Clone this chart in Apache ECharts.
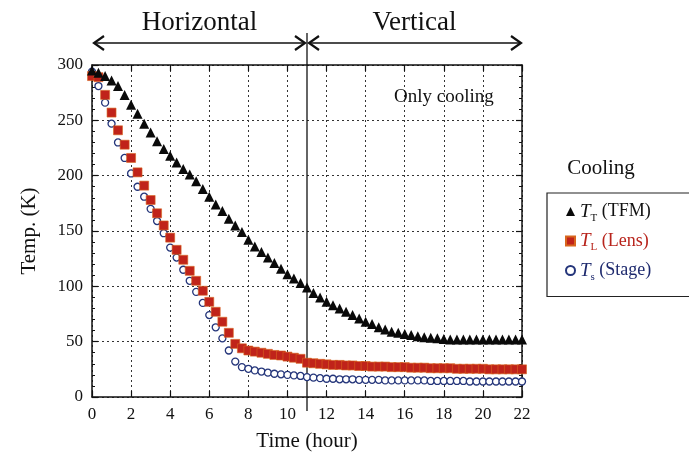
<!DOCTYPE html>
<html><head><meta charset="utf-8">
<script src="https://cdn.jsdelivr.net/npm/echarts@6/dist/echarts.min.js"></script>
<style>html,body{margin:0;padding:0;background:#fff}#c{width:689px;height:462px}</style>
</head><body><div id="c"></div>
<script>
// sample times (hour), one sample every 20 minutes
const times = [0,0.33,0.67, 1,1.33,1.67, 2,2.33,2.67, 3,3.33,3.67, 4,4.33,4.67, 5,5.33,5.67,
  6,6.33,6.67, 7,7.33,7.67, 8,8.33,8.67, 9,9.33,9.67, 10,10.33,10.67, 11,11.33,11.67,
  12,12.33,12.67, 13,13.33,13.67, 14,14.33,14.67, 15,15.33,15.67, 16,16.33,16.67,
  17,17.33,17.67, 18,18.33,18.67, 19,19.33,19.67, 20,20.33,20.67, 21,21.33,21.67, 22];
// T_T (TFM)
const tfm = [295,293,290, 286,281,273, 264,256,247, 239,231,224, 218,212,206, 201,195,188,
  181,174,168, 161,155,149, 142,136,131, 126,121,116, 111,107,103, 99,94,90,
  86,83,80, 77,74,71, 68,66,63, 61,59,58, 57,56,55, 54,53.5,53, 52.5,52,52,
  52,52,52, 52,52,52, 52,52,52, 52];
// T_L (Lens)
const lens = [290,289,273, 257,241,228, 216,203,191, 178,166,155, 144,133,124, 114,105,96,
  86,77,68, 58,48,44, 42,41,40, 39,38,37.5, 36.5,35.5,34.5, 31,30.5,30,
  29.5,29,29, 28.5,28.5,28, 28,27.5,27.5, 27.5,27,27, 27,26.5,26.5, 26.5,26,26,
  26,26,25.5, 25.5,25.5,25.5, 25.5,25,25, 25,25,25, 25];
// T_s (Stage)
const stage = [294,281,266, 247,230,216, 202,190,181, 170,159,148, 135,126,115, 105,95,85,
  74,63,53, 42,32,27, 25.5,24,23, 22,21,20.5, 20,19.5,19, 18,17.5,17,
  16.5,16.5,16, 16,16,15.5, 15.5,15.5,15.5, 15,15,15, 15,15,15, 15,14.5,14.5,
  14.5,14.5,14.5, 14.5,14,14, 14,14,14, 14,14,14, 14];

const seriesNames = ['TFM', 'Lens', 'Stage'];
const xRange = [0, 22], xStep = 2;
const yRange = [0, 300], yStep = 50;
const phaseSplit = 11;          // hour where orientation changes
const phaseLabels = ['Horizontal', 'Vertical'];
const noteText = 'Only cooling';
const legendTitle = 'Cooling';

const SERIF = '"Liberation Serif","Times New Roman",serif';
const pair = arr => times.map((t, i) => [t, arr[i]]);

const chart = echarts.init(document.getElementById('c'), null, {renderer: 'canvas'});

const axisCommon = {
  type: 'value',
  axisLine: {show: true, onZero: false, lineStyle: {color: '#111', width: 1.5}},
  axisTick: {show: true, inside: true, length: 6, lineStyle: {color: '#111', width: 1.2}},
};

const richFor = (col) => ({
  ['t' + col.k]: {fontFamily: SERIF, fontStyle: 'italic', fontSize: 19, color: col.c, lineHeight: 24},
  ['s' + col.k]: {fontFamily: SERIF, fontSize: 11, color: col.c, lineHeight: 11, verticalAlign: 'bottom'},
  ['n' + col.k]: {fontFamily: SERIF, fontSize: 18, color: col.c, lineHeight: 24}
});
const legendCols = [{k: 0, c: '#111111'}, {k: 1, c: '#b8241c'}, {k: 2, c: '#1e2a6e'}];
const rich = Object.assign({}, ...legendCols.map(richFor));
const legendText = {
  TFM: '{t0|T}{s0|T}{n0| (TFM)}',
  Lens: '{t1|T}{s1|L}{n1| (Lens)}',
  Stage: '{t2|T}{s2|s}{n2| (Stage)}'
};

chart.setOption({
  animation: false,
  backgroundColor: '#fff',
  grid: {left: 92, right: 167, top: 65, bottom: 65, containLabel: false},
  xAxis: [
    Object.assign({}, axisCommon, {
      min: xRange[0], max: xRange[1], interval: xStep, position: 'bottom',
      name: 'Time (hour)', nameLocation: 'middle', nameGap: 34,
      nameTextStyle: {fontFamily: SERIF, fontSize: 21, color: '#111'},
      axisLabel: {fontFamily: SERIF, fontSize: 17, color: '#111', margin: 9},
      splitLine: {show: true, lineStyle: {type: [2, 3], color: '#333', width: 1}}
    }),
    Object.assign({}, axisCommon, {
      min: xRange[0], max: xRange[1], interval: xStep, position: 'top',
      axisLabel: {show: false}, splitLine: {show: false}
    })
  ],
  yAxis: [
    Object.assign({}, axisCommon, {
      min: yRange[0], max: yRange[1], interval: yStep, position: 'left',
      name: 'Temp. (K)', nameLocation: 'middle', nameGap: 52, nameRotate: 90,
      nameTextStyle: {fontFamily: SERIF, fontSize: 21, color: '#111'},
      axisLabel: {fontFamily: SERIF, fontSize: 17, color: '#111', margin: 9},
      minorTick: {show: true, splitNumber: 5, length: 3, lineStyle: {color: '#111'}},
      splitLine: {show: true, lineStyle: {type: [2, 3], color: '#333', width: 1}}
    }),
    Object.assign({}, axisCommon, {
      min: yRange[0], max: yRange[1], interval: yStep, position: 'right',
      axisLabel: {show: false}, splitLine: {show: false},
      minorTick: {show: true, splitNumber: 5, length: 3, lineStyle: {color: '#111'}}
    })
  ],
  legend: {
    orient: 'vertical', left: 547, top: 193,
    itemWidth: 9, itemHeight: 9, itemGap: 8,
    borderColor: '#222', borderWidth: 1.2,
    padding: [9, 40, 14, 18],
    formatter: name => legendText[name],
    textStyle: {rich: rich, fontFamily: SERIF},
    data: seriesNames
  },
  series: [
    {name: seriesNames[2], type: 'scatter', data: pair(stage), symbol: 'circle', symbolSize: 7,
     itemStyle: {color: '#ffffff', borderColor: '#24357a', borderWidth: 1.3, opacity: 1}, z: 3},
    {name: seriesNames[1], type: 'scatter', data: pair(lens), symbol: 'rect', symbolSize: 9,
     itemStyle: {color: '#c0231a', borderColor: '#d8661e', borderWidth: 0.6, opacity: 1}, z: 4},
    {name: seriesNames[0], type: 'scatter', data: pair(tfm), symbol: 'triangle', symbolSize: 10,
     itemStyle: {color: '#0a0a0a', opacity: 1}, z: 5}
  ]
});

// annotations positioned through the axes
const P = (x, y) => chart.convertToPixel({xAxisIndex: 0, yAxisIndex: 0}, [x, y]);
const [x0, yBot] = P(xRange[0], yRange[0]);
const [xs, yTop] = P(phaseSplit, yRange[1]);
const [x1] = P(xRange[1], yRange[1]);
const arrowY = yTop - 22;
const head = (x, dir) => ({
  type: 'polyline',
  shape: {points: [[x + dir * 10, arrowY - 7], [x, arrowY], [x + dir * 10, arrowY + 7]]},
  style: {stroke: '#111', lineWidth: 2.2, fill: null}
});
const [hx] = P((xRange[0] + phaseSplit) / 2, 0);
const [vx] = P((phaseSplit + xRange[1]) / 2, 0);
const [nx, ny] = P(18, 271);

chart.setOption({
  graphic: [
    {type: 'line', shape: {x1: xs, y1: yTop - 32, x2: xs, y2: yBot + 14}, style: {stroke: '#111', lineWidth: 1.3}},
    {type: 'line', shape: {x1: x0 + 2, y1: arrowY, x2: xs - 2, y2: arrowY}, style: {stroke: '#111', lineWidth: 1.4}},
    {type: 'line', shape: {x1: xs + 2, y1: arrowY, x2: x1 - 1, y2: arrowY}, style: {stroke: '#111', lineWidth: 1.4}},
    head(x0 + 2, 1), head(xs - 2, -1), head(xs + 2, 1), head(x1 - 1, -1),
    {type: 'text', style: {text: phaseLabels[0], x: hx, y: yTop - 42, textAlign: 'center', textVerticalAlign: 'middle',
      font: '27px ' + SERIF, fill: '#111'}},
    {type: 'text', style: {text: phaseLabels[1], x: vx, y: yTop - 42, textAlign: 'center', textVerticalAlign: 'middle',
      font: '27px ' + SERIF, fill: '#111'}},
    {type: 'text', style: {text: noteText, x: nx, y: ny, textAlign: 'center', textVerticalAlign: 'middle',
      font: '19px ' + SERIF, fill: '#111'}},
    {type: 'text', style: {text: legendTitle, x: 601, y: 168, textAlign: 'center', textVerticalAlign: 'middle',
      font: '21px ' + SERIF, fill: '#111'}}
  ]
});
</script>
</body></html>
